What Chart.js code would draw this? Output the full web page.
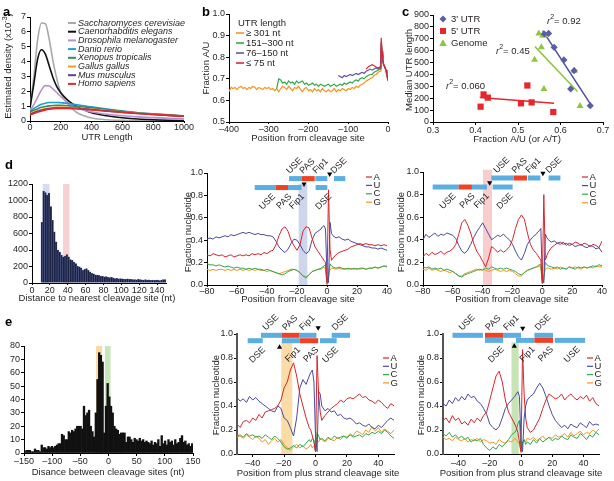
<!DOCTYPE html>
<html><head><meta charset="utf-8">
<script src="https://cdn.jsdelivr.net/npm/chart.js@4.4.1/dist/chart.umd.min.js"></script>
<style>
html,body{margin:0;padding:0;background:#fff;}
body{width:614px;height:481px;position:relative;overflow:hidden;}
canvas{position:absolute;left:0;top:0;}
</style></head><body>
<script>
// ================= DATA =================
// --- panel a: UTR length densities (x10^-3)
const A_LEN = [0,25,50,75,100,125,150,175,200,250,300,350,400,500,600,700,800,900,1000];
const A_SPECIES = ['Saccharomyces cerevisiae','Caenorhabditis elegans','Drosophila melanogaster','Danio rerio','Xenopus tropicalis','Gallus gallus','Mus musculus','Homo sapiens'];
const A_SCER = [0.8,3.0,5.5,6.6,6.55,5.5,4.0,2.8,1.9,1.1,0.6,0.35,0.2,0.08,0.04,0.02,0.01,0.01,0.0];
const A_CELE = [0.9,2.5,4.2,4.8,4.5,3.7,2.9,2.3,1.9,1.35,1.0,0.75,0.55,0.35,0.22,0.13,0.08,0.05,0.03];
const A_DMEL = [0.7,1.1,1.6,2.1,2.38,2.35,2.15,1.9,1.65,1.2,0.9,0.72,0.6,0.45,0.35,0.28,0.23,0.18,0.15];
const A_DRER = [0.65,0.85,1.0,1.12,1.2,1.24,1.25,1.25,1.23,1.18,1.1,1.02,0.95,0.8,0.67,0.56,0.47,0.4,0.33];
const A_XTRO = [0.6,0.72,0.83,0.92,0.98,1.02,1.04,1.05,1.05,1.03,0.99,0.94,0.89,0.77,0.66,0.56,0.48,0.41,0.35];
const A_GGAL = [0.5,0.6,0.7,0.78,0.84,0.88,0.9,0.92,0.92,0.91,0.88,0.84,0.8,0.7,0.6,0.52,0.45,0.38,0.33];
const A_MMUS = [0.45,0.55,0.65,0.73,0.79,0.83,0.86,0.88,0.88,0.87,0.85,0.81,0.77,0.68,0.59,0.51,0.44,0.38,0.32];
const A_HSAP = [0.4,0.5,0.6,0.68,0.75,0.8,0.83,0.85,0.85,0.84,0.82,0.79,0.75,0.66,0.58,0.5,0.44,0.38,0.33];
const A_XTICKS = [0,200,400,600,800,1000];
const A_YTICKS = [0,1,2,3,4,5,6,7];

// --- panel b: fraction A/U by position
const B_LABELS = ['\u2265 301 nt','151\u2013300 nt','76\u2013150 nt','\u2264 75 nt'];
const B_TAIL_POS = [-18,-17,-15,-13,-11,-9,-7,-5,-3,0];
const B_LONG = [.64,.66,.655,.66,.65,.66,.665,.655,.66,.65,
  .66,.655,.665,.66,.65,.66,.655,.65,.66,.655,
  .66,.65,.655,.645,.655,.64,.655,.665,.66,.65,
  .665,.655,.645,.66,.655,.665,.65,.64,.655,.66,
  .645,.65,.64,.655,.645,.65,.64,.655,.645,.64,
  .65,.64,.645,.655,.64,.65,.645,.655,.65,.645,
  .655,.65,.66,.655,.665,.66,.67,.675,.68,.69,
  .695,.70,.705,.715,.72,.73,.735,
  .77,.87,.81,.78,.76,.755,.745,.73,.71,.69];
const B_MID = [.655,.70,.695,.68,.685,.675,.69,.68,.685,.675,.69,
  .68,.685,.69,.675,.68,.67,.675,.68,.67,.675,
  .665,.675,.67,.665,.67,.675,.665,.67,.675,.665,
  .67,.675,.67,.68,.675,.68,.685,.68,.69,.695,
  .69,.70,.705,.70,.71,.715,.72,.72,.73,.735,
  .74,.745,
  .76,.86,.81,.78,.765,.76,.75,.74,.72,.70];
const B_SHORT = [.715,.71,.705,.715,.71,.715,.72,.715,.72,.725,.72,.725,.73,.725,.735,.74,.745,.74,.745,.75,.745,.75,
  .77,.87,.82,.78,.765,.76,.75,.74,.72,.70];
const B_VSHORT = [.745,.755,.76,.765,.76,.755,.75,.755,
  .78,.89,.83,.79,.77,.76,.75,.74,.72,.69];
const B_START = [-400,-280,-125,-55];
const B_XTICKS = [-400,-300,-200,-100,0];
const B_YTICKS = [0.5,0.6,0.7,0.8,0.9,1.0];

// --- panel c: median UTR length vs A/U fraction
const C_LABELS = ["3' UTR","5' UTR",'Genome'];
const C_UTR3_X = [0.562,0.572,0.585,0.608,0.632,0.624,0.670];
const C_UTR3_Y = [740,745,628,522,432,278,137];
const C_UTR5_X = [0.412,0.419,0.429,0.507,0.522,0.532,0.583];
const C_UTR5_Y = [129,232,205,157,307,165,84];
const C_GEN_X = [0.549,0.558,0.562,0.555,0.539,0.561,0.633,0.646];
const C_GEN_Y = [745,728,730,628,523,277,432,134];
const C_FIT3_X = [0.558,0.674], C_FIT3_Y = [769,131];
const C_FIT5_X = [0.41,0.585],  C_FIT5_Y = [207,157];
const C_FITG_X = [0.540,0.640], C_FITG_Y = [634,257];
const C_R2 = ['0.92','0.060','0.45'];
const C_XTICKS = [0.3,0.4,0.5,0.6,0.7];
const C_YTICKS = [0,100,200,300,400,500,600,700,800,900];

// --- panel d histogram: distance to nearest cleavage site (2-nt bins from 10)
const DH_BIN0 = 10, DH_BINW = 2;
const DH_COUNTS = [735,1115,1095,1065,1090,925,760,620,500,400,
  375,340,318,325,345,318,285,275,255,235,
  205,195,185,155,165,175,155,135,118,112,
  100,95,92,82,85,75,78,70,66,68,
  62,55,58,52,55,50,48,45,50,44,
  46,40,42,38,44,40,38,36,40,35,
  38,33,36,32,35,34,30,36,42,40];
const DH_XTICKS = [0,20,40,60,80,100,120,140];
const DH_YTICKS = [0,200,400,600,800,1000,1200];
const DH_BANDS = [[12,19.5],[34.7,42]];

// --- panel d nucleotide profiles (positions from cleavage site)
const NUC = ['A','U','C','G'];
const D_POS_A = [-80,-4,2], D_POS_MID = [-3,-2,-1,0,1,2,3], D_POS_C = [4,40,2];
const D1_A = [.27,.26,.28,.27,.26,.27,.25,.26,.27,.25,.26,.27,.26,.27,.26,.28,.27,.28,.27,.29,.28,.30,.31,.36,.44,.50,.52,.48,.40,.35,.31,.36,.48,.52,.51,.42,.34,.30,.26,
  .24,.22,.20,.02,.85,.32,.22,
  .24,.27,.29,.30,.31,.32,.34,.35,.36,.37,.36,.37,.36,.36,.35,.36,.35,.36,.35];
const D1_U = [.41,.42,.41,.43,.42,.43,.44,.43,.45,.44,.45,.46,.47,.46,.47,.46,.45,.46,.45,.45,.44,.44,.43,.39,.34,.31,.29,.32,.37,.41,.40,.36,.31,.28,.30,.40,.46,.48,.50,
  .52,.53,.50,.08,.02,.56,.46,
  .44,.42,.43,.41,.40,.41,.39,.38,.37,.36,.35,.34,.34,.33,.33,.32,.33,.32,.31];
const D1_C = [.19,.18,.18,.17,.18,.17,.16,.17,.16,.15,.16,.15,.15,.14,.15,.14,.15,.14,.14,.13,.14,.13,.12,.11,.10,.09,.10,.12,.13,.14,.13,.11,.08,.07,.09,.12,.13,.14,.15,
  .16,.17,.18,.01,.06,.19,.17,
  .16,.15,.16,.15,.14,.15,.14,.15,.14,.15,.15,.14,.15,.15,.16,.15,.16,.17,.16];
const D1_G = [.14,.13,.14,.13,.14,.14,.13,.14,.13,.14,.13,.14,.13,.14,.13,.14,.13,.14,.13,.13,.12,.13,.12,.11,.10,.11,.12,.13,.14,.14,.13,.11,.08,.06,.09,.12,.13,.14,.14,
  .15,.16,.14,.00,.10,.13,.15,
  .15,.14,.15,.14,.15,.14,.15,.14,.15,.14,.15,.14,.15,.15,.16,.15,.16,.17,.17];
const D2_A = [.25,.28,.26,.29,.27,.28,.30,.27,.29,.30,.32,.36,.45,.55,.58,.53,.46,.37,.30,.26,.21,.16,.24,.34,.32,.29,.31,.29,.31,.34,.40,.50,.58,.62,.58,.46,.36,.31,.28,
  .26,.24,.22,.02,.80,.22,.26,
  .29,.33,.35,.37,.36,.38,.35,.37,.36,.38,.37,.35,.37,.36,.34,.36,.35,.33,.39];
const D2_U = [.40,.45,.42,.44,.46,.43,.45,.44,.46,.45,.44,.41,.35,.30,.28,.31,.36,.42,.47,.51,.55,.50,.45,.40,.42,.44,.43,.45,.42,.40,.36,.30,.25,.22,.28,.36,.40,.43,.45,
  .47,.48,.50,.05,.02,.45,.42,
  .40,.38,.39,.37,.38,.36,.37,.35,.36,.34,.35,.36,.34,.33,.35,.34,.32,.33,.29];
const D2_C = [.16,.15,.16,.14,.15,.14,.15,.13,.14,.13,.12,.10,.08,.07,.09,.10,.11,.12,.13,.14,.13,.15,.14,.16,.15,.14,.15,.14,.15,.14,.13,.12,.10,.09,.11,.13,.14,.15,.16,
  .17,.18,.18,.01,.05,.20,.18,
  .17,.16,.15,.16,.14,.15,.14,.16,.15,.14,.16,.15,.16,.15,.16,.17,.16,.18,.17];
const D2_G = [.14,.13,.15,.13,.14,.13,.12,.13,.12,.11,.12,.10,.08,.08,.10,.11,.12,.13,.14,.13,.14,.13,.12,.13,.14,.13,.12,.13,.12,.13,.12,.10,.08,.08,.11,.13,.14,.15,.16,
  .16,.17,.15,.02,.08,.14,.15,
  .15,.14,.15,.14,.16,.15,.14,.16,.15,.16,.15,.14,.16,.15,.16,.15,.17,.16,.16];
const D_XTICKS = [-80,-60,-40,-20,0,20,40];
const NUC_YTICKS = [0,0.2,0.4,0.6,0.8,1.0];
// element annotations: [start, end, element]
const D1_ROW1 = [[-25.3,-17,'USE'],[-17,-8.2,'PAS'],[-7.8,0.2,'Fip1'],[4.7,12.2,'DSE']];
const D1_ROW2 = [[-48.2,-34.2,'USE'],[-34.2,-26,'PAS'],[-26,-17,'Fip1'],[-7.6,0.2,'DSE']];
const D1_SITES = [[1.8,0.964,'down'],[-15.3,0.875,'down']];
const D1_BAND = [-18.9,-13.1,0.905];
const D2_ROW1 = [[-34.2,-19.2,'USE'],[-19.2,-10.3,'PAS'],[-9.6,-1.3,'Fip1'],[4.2,12.1,'DSE']];
const D2_ROW2 = [[-73.5,-56.1,'USE'],[-56.1,-47.2,'PAS'],[-47.2,-37.1,'Fip1'],[-33.3,-19.9,'DSE']];
const D2_SITES = [[0.4,0.962,'down'],[-35.3,0.879,'down']];
const D2_BAND = [-39.8,-33.7,1.02];

// --- panel e histogram: distance between cleavage sites (3-nt bins from -150)
const EH_BIN0 = -150, EH_BINW = 3;
const EH_COUNTS = [1,2,2,2,1,1,3,2,2,1, 6,4,4,3,5,4,5,4,5,6,
  7,7,14,13,10,10,16,15,17,16, 18,20,20,20,18,35,28,30,32,20,
  16,12,30,55,75,73,68,15,35,52, 42,35,30,20,18,17,14,15,15,15,
  8,12,12,10,8,11,10,9,11,9, 10,8,9,8,7,9,6,8,7,10,
  5,13,7,9,6,10,8,9,6,10, 7,8,11,13,8,9,6,7,5,7];
const EH_XTICKS = [-150,-100,-50,0,50,100,150];
const EH_YTICKS = [0,10,20,30,40,50,60,70,80];
const EH_BANDS = [[-22,-11.3],[-6.5,3.6]];

// --- panel e nucleotide profiles (positions from plus strand cleavage site)
const E_POS_A = [-50,-4,2], E_POS_MID = [-3,-2,-1,0,1,2,3], E_POS_C = [4,50,2];
const E1_A = [.25,.22,.27,.28,.26,.30,.28,.33,.30,.35,.36,.37,.38,.40,.45,.55,.60,.70,.76,.65,.50,.40,.30,.22,
  .20,.15,.10,.02,.82,.50,.35,
  .28,.32,.35,.38,.40,.42,.45,.43,.46,.47,.46,.48,.50,.47,.48,.45,.44,.42,.45,.43,.40,.38,.42,.40];
const E1_U = [.47,.44,.46,.43,.48,.45,.47,.44,.42,.40,.38,.36,.35,.40,.38,.30,.28,.22,.15,.30,.55,.62,.58,.65,
  .68,.70,.60,.15,.02,.52,.50,
  .40,.36,.38,.35,.36,.32,.33,.30,.29,.30,.28,.25,.26,.24,.23,.25,.22,.21,.24,.22,.25,.28,.30,.28];
const E1_C = [.15,.16,.14,.17,.15,.16,.14,.15,.13,.16,.14,.12,.15,.13,.10,.06,.04,.05,.07,.05,.08,.06,.09,.12,
  .10,.13,.12,.02,.18,.15,.12,
  .13,.11,.14,.12,.15,.13,.14,.15,.13,.16,.14,.15,.16,.14,.17,.16,.18,.17,.19,.17,.20,.18,.15,.13];
const E1_G = [.14,.15,.13,.16,.14,.12,.15,.13,.10,.12,.08,.11,.13,.10,.12,.08,.05,.03,.06,.08,.05,.07,.04,.06,
  .08,.05,.07,.02,.12,.10,.13,
  .12,.10,.13,.12,.11,.14,.12,.15,.14,.17,.15,.19,.18,.16,.20,.18,.23,.19,.22,.18,.21,.19,.17,.20];
const E2_A = [.28,.30,.26,.32,.28,.30,.25,.27,.24,.29,.26,.30,.27,.32,.35,.45,.55,.65,.69,.60,.45,.35,.30,.25,
  .22,.18,.10,.02,.87,.50,.30,
  .22,.18,.20,.25,.30,.38,.45,.50,.48,.46,.47,.50,.45,.48,.50,.47,.45,.48,.46,.49,.44,.47,.42,.40];
const E2_U = [.42,.40,.45,.42,.47,.44,.48,.45,.50,.47,.48,.44,.42,.38,.33,.25,.22,.20,.23,.30,.38,.42,.45,.48,
  .50,.52,.48,.10,.02,.30,.40,
  .45,.48,.50,.55,.59,.55,.48,.40,.33,.28,.25,.22,.24,.21,.25,.23,.22,.26,.24,.22,.27,.24,.25,.24];
const E2_C = [.17,.15,.18,.14,.16,.13,.15,.12,.14,.10,.12,.11,.13,.08,.05,.03,.06,.04,.08,.06,.09,.12,.16,.18,
  .20,.25,.28,.02,.10,.12,.08,
  .10,.08,.12,.09,.13,.10,.12,.14,.11,.13,.12,.15,.13,.12,.16,.14,.13,.17,.15,.12,.16,.14,.18,.16];
const E2_G = [.14,.12,.13,.11,.14,.12,.11,.13,.10,.12,.11,.13,.10,.12,.11,.09,.10,.08,.12,.10,.09,.11,.10,.13,
  .12,.10,.08,.01,.08,.12,.10,
  .13,.12,.14,.11,.13,.15,.12,.14,.13,.16,.14,.15,.17,.14,.18,.15,.17,.19,.16,.18,.17,.20,.18,.21];
const E_XTICKS = [-40,-20,0,20,40];
const E1_ROW1 = [[-34.7,-21.4,'USE'],[-21.4,-10.1,'PAS'],[-10.1,0.6,'Fip1'],[10.3,22,'DSE']];
const E1_ROW2 = [[-43.2,-33.6,'DSE'],[-21.4,-10.1,'Fip1'],[-10.1,1.7,'PAS'],[2.8,13.5,'USE']];
const E1_SITES = [[1.7,1.028,'down'],[-22.9,0.914,'up']];
const E1_BAND = [-21.8,-14.8,0.945];
const E2_ROW1 = [[-43.9,-24.4,'USE'],[-23.1,-11.5,'PAS'],[-11.5,0,'Fip1'],[8.6,20.5,'DSE']];
const E2_ROW2 = [[-23.1,-11.5,'DSE'],[-3.2,8.6,'Fip1'],[8.6,20.5,'PAS'],[21.6,41.1,'USE']];
const E2_SITES = [[1.1,1.022,'down'],[-4.3,0.922,'up']];
const E2_BAND = [-6.1,-1.5,0.93];

// ================= STYLE / HELPERS =================
const W = 614, H = 481;
const FF = '"Liberation Sans", Arial, Helvetica, sans-serif';
const INK = '#231f20';
const A_COLORS = ['#a7a9ac','#111111','#b88fcf','#1aa0d8','#3a8a5e','#f6a01a','#5b3f99','#e8262b'];
const B_COLORS = ['#f7941d','#2fa84f','#5b57a6','#d7263d'];
const C_COLORS = ['#5b5ea6','#e8262b','#8dc63f'];
const NUC_COLORS = ['#d7262b','#4b4aa0','#2fa84f','#f7941d'];
const ELEM_BLUE = '#5aaee0', ELEM_RED = '#ef4123';

Chart.defaults.font.family = FF;
Chart.defaults.font.size = 9;
Chart.defaults.color = INK;

function seq(a, b, s) { const r = []; for (let v = a; v <= b + 1e-9; v += s) r.push(Math.round(v * 1000) / 1000); return r; }
function pairs(xs, ys) { return ys.map((y, i) => ({ x: xs[i], y: y })); }
function pos3(A, M, C) { return seq(A[0], A[1], A[2]).concat(M, seq(C[0], C[1], C[2])); }
const fInt = v => (v < 0 ? '\u2013' : '') + Math.abs(Math.round(v));
const f1 = v => (v < -1e-9 ? '\u2013' : '') + Math.abs(v).toFixed(1);

function setFont(ctx, size, style, weight) { ctx.font = [style || '', weight || '', size + 'px', FF].join(' ').trim(); }
function rich(ctx, parts, x, y, o) {
  o = o || {};
  ctx.save(); ctx.translate(x, y); if (o.rot) ctx.rotate(o.rot);
  ctx.fillStyle = o.color || INK; ctx.textBaseline = o.base || 'middle'; ctx.textAlign = 'left';
  let tot = 0;
  parts.forEach(p => { setFont(ctx, p.size || 9, p.style, p.weight); p._w = ctx.measureText(p.t).width; tot += p._w; });
  let cx = o.align === 'center' ? -tot / 2 : (o.align === 'right' ? -tot : 0);
  parts.forEach(p => { setFont(ctx, p.size || 9, p.style, p.weight); ctx.fillText(p.t, cx, p.dy || 0); cx += p._w; });
  ctx.restore();
}
function txt(ctx, s, x, y, o) { o = o || {}; rich(ctx, [{ t: s, size: o.size || 9, style: o.style, weight: o.weight }], x, y, o); }

// pos, range, tick values, formatter, box size, [tick length, label padding, line width, line colour]
function axis(pos, min, max, ticks, fmt, size, tl, pad, lw, col) {
  tl = tl == null ? 3 : tl; pad = pad == null ? 1 : pad; lw = lw || 1; col = col || '#000';
  return {
    type: 'linear', position: pos, min: min, max: max, offset: false,
    afterBuildTicks: s => { s.ticks = ticks.map(v => ({ value: v })); },
    afterFit: s => { if (pos === 'left') s.width = size; else s.height = size; },
    grid: { display: true, drawOnChartArea: false, drawTicks: true, tickLength: tl, tickWidth: 1, tickColor: '#000', offset: false },
    border: { display: true, color: col, width: lw },
    ticks: { autoSkip: false, maxRotation: 0, minRotation: 0, padding: pad, color: INK, font: { size: 9, family: FF }, callback: v => fmt(v) }
  };
}

let plugN = 0;
function mk(rect, yW, xH, cfg, hooks) {
  const cv = document.createElement('canvas');
  cv.width = W; cv.height = H; cv.style.width = W + 'px'; cv.style.height = H + 'px';
  document.body.appendChild(cv);
  cfg.options = cfg.options || {};
  Object.assign(cfg.options, {
    responsive: false, maintainAspectRatio: false, devicePixelRatio: 1, animation: false, events: [],
    layout: { padding: { left: rect.l - yW, top: rect.t, right: W - rect.r, bottom: H - rect.b - xH } },
    plugins: { legend: { display: false }, tooltip: { enabled: false } }
  });
  plugN++;
  cfg.plugins = [Object.assign({ id: 'ov' + plugN }, hooks)];
  return new Chart(cv, cfg);
}
function vTitle(c, s, x, y) { txt(c, s, x, y, { size: 9.5, align: 'center', rot: -Math.PI / 2 }); }
function hTitle(c, s, x, y) { txt(c, s, x, y, { size: 9.5, align: 'center' }); }
function letter(c, s, x, y) { txt(c, s, x, y, { size: 13, weight: 'bold', color: '#000' }); }

// ================= PANEL a =================
const aSeries = [A_SCER, A_CELE, A_DMEL, A_DRER, A_XTRO, A_GGAL, A_MMUS, A_HSAP];
mk({ l: 30, t: 17, r: 184, b: 121 }, 28, 16, {
  type: 'line',
  data: { datasets: aSeries.map((s, i) => ({ label: A_SPECIES[i], data: pairs(A_LEN, s), borderColor: A_COLORS[i], borderWidth: 1.6, pointRadius: 0, cubicInterpolationMode: 'monotone', order: aSeries.length - 1 - i })) },
  options: { scales: { x: axis('bottom', 0, 1000, A_XTICKS, fInt, 16, 2, -1), y: axis('left', 0, 7, A_YTICKS, fInt, 28) } }
}, {
  afterDraw(ch) {
    const c = ch.ctx;
    letter(c, 'a', 3, 12);
    rich(c, [{ t: 'Estimated density (x10', size: 9.5 }, { t: '-3', size: 7, dy: -3 }, { t: ')', size: 9.5 }], 8, 66, { rot: -Math.PI / 2, align: 'center' });
    hTitle(c, 'UTR Length', 107, 137.5);
    ch.data.datasets.forEach((d, i) => {
      const y = 23 + i * 8.7;
      c.strokeStyle = d.borderColor; c.lineWidth = 2; c.beginPath(); c.moveTo(68, y); c.lineTo(76, y); c.stroke();
      txt(c, d.label, 78, y, { size: 9, style: 'italic' });
    });
  }
});

// ================= PANEL b =================
const bPos = seq(-400, -20, 5).concat(B_TAIL_POS);
const bSeries = [B_LONG, B_MID, B_SHORT, B_VSHORT];
mk({ l: 229, t: 14, r: 388, b: 122 }, 30, 16, {
  type: 'line',
  data: { datasets: bSeries.map((s, i) => ({ label: B_LABELS[i], data: pairs(bPos.slice(bPos.indexOf(B_START[i])), s), borderColor: B_COLORS[i], borderWidth: 1.2, pointRadius: 0, tension: 0, order: bSeries.length - 1 - i })) },
  options: { scales: { x: axis('bottom', -400, 0, B_XTICKS, fInt, 16, 2, 0), y: axis('left', 0.5, 1.0, B_YTICKS, f1, 30) } }
}, {
  afterDraw(ch) {
    const c = ch.ctx;
    letter(c, 'b', 202, 12);
    vTitle(c, 'Fraction A/U', 206, 68);
    hTitle(c, 'Position from cleavage site', 308, 138);
    txt(c, 'UTR length', 238, 23, { size: 9.5 });
    ch.data.datasets.forEach((d, i) => {
      const y = 33 + i * 10;
      c.strokeStyle = d.borderColor; c.lineWidth = 1.6; c.beginPath(); c.moveTo(236, y); c.lineTo(244, y); c.stroke();
      txt(c, d.label, 246, y, { size: 9.5 });
    });
  }
});

// ================= PANEL c =================
function marker(c, kind, x, y, col) {
  c.fillStyle = col; c.beginPath();
  if (kind === 0) { c.moveTo(x, y - 3.5); c.lineTo(x + 3.5, y); c.lineTo(x, y + 3.5); c.lineTo(x - 3.5, y); }
  else if (kind === 1) { c.rect(x - 3, y - 3, 6, 6); }
  else { c.moveTo(x, y - 3.8); c.lineTo(x + 3.8, y + 3); c.lineTo(x - 3.8, y + 3); }
  c.closePath(); c.fill();
}
mk({ l: 433, t: 15, r: 603, b: 122 }, 30, 16, {
  type: 'scatter',
  data: { datasets: [
    { label: C_LABELS[0], data: pairs(C_UTR3_X, C_UTR3_Y), pointStyle: 'rectRot', pointRadius: 3.6, backgroundColor: C_COLORS[0], borderColor: C_COLORS[0], borderWidth: 0, order: 0 },
    { label: C_LABELS[1], data: pairs(C_UTR5_X, C_UTR5_Y), pointStyle: 'rect', pointRadius: 4.4, backgroundColor: C_COLORS[1], borderColor: C_COLORS[1], borderWidth: 0, order: 0 },
    { label: C_LABELS[2], data: pairs(C_GEN_X, C_GEN_Y), pointStyle: 'triangle', pointRadius: 4, backgroundColor: C_COLORS[2], borderColor: C_COLORS[2], borderWidth: 0, order: 0 },
    { label: 'fit3', data: pairs(C_FIT3_X, C_FIT3_Y), showLine: true, pointRadius: 0, borderColor: '#4b4fa0', borderWidth: 1.5, order: 1 },
    { label: 'fit5', data: pairs(C_FIT5_X, C_FIT5_Y), showLine: true, pointRadius: 0, borderColor: '#e8262b', borderWidth: 1.5, order: 1 },
    { label: 'fitG', data: pairs(C_FITG_X, C_FITG_Y), showLine: true, pointRadius: 0, borderColor: '#8dc63f', borderWidth: 1.5, order: 1 }
  ] },
  options: { scales: { x: axis('bottom', 0.3, 0.7, C_XTICKS, f1, 16, 3, 0), y: axis('left', 0, 900, C_YTICKS, fInt, 30) } }
}, {
  afterDraw(ch) {
    const c = ch.ctx;
    letter(c, 'c', 402, 12);
    vTitle(c, 'Median UTR length', 409, 70);
    hTitle(c, 'Fraction A/U (or A/T)', 517, 139);
    C_LABELS.forEach((s, i) => { const y = 19 + i * 12; marker(c, i, 443, y, C_COLORS[i]); txt(c, s, 451, y, { size: 9.5 }); });
    const r2 = (s, x, y) => rich(c, [{ t: 'r', size: 9.5, style: 'italic' }, { t: '2', size: 7, dy: -4 }, { t: '= ' + s, size: 9.5 }], x, y);
    r2(C_R2[0], 547, 21);
    r2(C_R2[1], 446, 86);
    r2(C_R2[2], 496, 51);
  }
});

// ================= HISTOGRAMS =================
function histChart(rect, yW, bin0, binw, counts, xr, yr, xt, yt, tl, col, edge, bands, bandCols, titleFn) {
  const xs = counts.map((v, i) => bin0 + binw * i + binw / 2);
  return mk(rect, yW, 16, {
    type: 'bar',
    data: { datasets: [{ data: pairs(xs, counts), backgroundColor: col, borderColor: edge, borderWidth: edge ? 0.5 : 0, barPercentage: 1, categoryPercentage: 1 }] },
    options: { scales: { x: axis('bottom', xr[0], xr[1], xt, fInt, 16, tl, 0), y: axis('left', yr[0], yr[1], yt, fInt, yW) } }
  }, {
    beforeDatasetsDraw(ch) {
      const c = ch.ctx, X = ch.scales.x, Y = ch.scales.y;
      bands.forEach((b, i) => {
        const x0 = X.getPixelForValue(b[0]), x1 = X.getPixelForValue(b[1]);
        const y0 = Y.getPixelForValue(yr[1]), y1 = Y.getPixelForValue(0);
        c.fillStyle = bandCols[i]; c.fillRect(x0, y0, x1 - x0, y1 - y0);
      });
    },
    afterDraw(ch) { titleFn(ch.ctx); }
  });
}
histChart({ l: 32, t: 184, r: 166, b: 283 }, 30, DH_BIN0, DH_BINW, DH_COUNTS, [0, 150], [0, 1200], DH_XTICKS, DH_YTICKS, 2,
  '#1b2244', '#4d5a8c', DH_BANDS, ['#d5dcef', '#f8d2d2'],
  c => { letter(c, 'd', 5, 165); hTitle(c, 'Distance to nearest cleavage site (nt)', 97, 298.5); });
histChart({ l: 24, t: 346, r: 193, b: 453 }, 22, EH_BIN0, EH_BINW, EH_COUNTS, [-150, 150], [0, 80], EH_XTICKS, EH_YTICKS, 3,
  '#111111', null, EH_BANDS, ['#fbd9a4', '#c8e6b9'],
  c => { letter(c, 'e', 5, 322); hTitle(c, 'Disance between cleavage sites (nt)', 108, 472); });

// ================= NUCLEOTIDE PROFILES =================
function nucChart(rect, xr, xt, pos, series, ann, leg, titles, xtl, xpad, yAxisLw, yAxisCol) {
  return mk(rect, 30, 16, {
    type: 'line',
    data: { datasets: series.map((s, i) => ({ label: NUC[i], data: pairs(pos, s), borderColor: NUC_COLORS[i], borderWidth: 1, pointRadius: 0, tension: 0 })) },
    options: { scales: { x: axis('bottom', xr[0], xr[1], xt, fInt, 16, xtl, xpad), y: axis('left', 0, 1, NUC_YTICKS, f1, 30, 3, 1, yAxisLw, yAxisCol) } }
  }, {
    beforeDatasetsDraw(ch) {
      const c = ch.ctx, X = ch.scales.x, Y = ch.scales.y, b = ann.band;
      const x0 = X.getPixelForValue(b[0]), x1 = X.getPixelForValue(b[1]);
      const y0 = Y.getPixelForValue(b[2]), y1 = Y.getPixelForValue(0);
      c.fillStyle = ann.bandColor; c.fillRect(x0, y0, x1 - x0, y1 - y0);
    },
    afterDraw(ch) {
      const c = ch.ctx, X = ch.scales.x, Y = ch.scales.y, BH = 5;
      ann.rows.forEach(row => {
        const yc = Y.getPixelForValue(row.y);
        row.items.forEach(it => {
          const x0 = X.getPixelForValue(it[0]), x1 = X.getPixelForValue(it[1]);
          c.fillStyle = it[2] === 'PAS' ? ELEM_RED : ELEM_BLUE;
          c.fillRect(x0, yc - BH / 2, x1 - x0, BH);
        });
      });
      ann.rows.forEach(row => {
        const yc = Y.getPixelForValue(row.y);
        row.items.forEach(it => {
          const x0 = X.getPixelForValue(it[0]), x1 = X.getPixelForValue(it[1]), cx = (x0 + x1) / 2;
          c.save(); setFont(c, 9); const L = c.measureText(it[2]).width; c.fillStyle = INK;
          if (row.above) {
            c.translate(cx - L * 0.354 + 1, yc - BH / 2 - 2); c.rotate(-Math.PI / 4); c.textAlign = 'left'; c.textBaseline = 'alphabetic';
          } else {
            c.translate(cx + L * 0.354 - 1, yc + BH / 2 + 2); c.rotate(-Math.PI / 4); c.textAlign = 'right'; c.textBaseline = 'top';
          }
          c.fillText(it[2], 0, 0); c.restore();
        });
      });
      c.fillStyle = '#000';
      ann.sites.forEach(s => {
        const px = X.getPixelForValue(s[0]), py = Y.getPixelForValue(s[1]);
        const d = s[2] === 'down' ? -4.5 : 4.5;
        c.beginPath(); c.moveTo(px, py); c.lineTo(px - 2.6, py + d); c.lineTo(px + 2.6, py + d); c.closePath(); c.fill();
      });
      ch.data.datasets.forEach((d, i) => {
        const y = leg.y + i * leg.dy;
        c.strokeStyle = d.borderColor; c.lineWidth = 1.2; c.beginPath(); c.moveTo(leg.x, y); c.lineTo(leg.x + 6, y); c.stroke();
        txt(c, d.label, leg.x + 7.5, y, { size: 9.5 });
      });
      titles(c);
    }
  });
}
const dPos = pos3(D_POS_A, D_POS_MID, D_POS_C);
const ePos = pos3(E_POS_A, E_POS_MID, E_POS_C);

nucChart({ l: 207, t: 173, r: 387, b: 285 }, [-80, 40], D_XTICKS, dPos, [D1_A, D1_U, D1_C, D1_G],
  { rows: [{ y: 0.95, above: true, items: D1_ROW1 }, { y: 0.87, above: false, items: D1_ROW2 }], sites: D1_SITES, band: D1_BAND, bandColor: '#cdd6ea' },
  { x: 366, y: 177, dy: 8.4 },
  c => { vTitle(c, 'Fraction nucleotide', 188, 232); hTitle(c, 'Position from cleavage site', 298, 299); }, 2, -1);

nucChart({ l: 423, t: 172, r: 602, b: 285 }, [-80, 40], D_XTICKS, dPos, [D2_A, D2_U, D2_C, D2_G],
  { rows: [{ y: 0.947, above: true, items: D2_ROW1 }, { y: 0.867, above: false, items: D2_ROW2 }], sites: D2_SITES, band: D2_BAND, bandColor: '#f7cdcd' },
  { x: 582, y: 177, dy: 8.6 },
  c => { vTitle(c, 'Fraction nucleotide', 401, 232); hTitle(c, 'Position from cleavage site', 512, 299); }, 2, -1);

nucChart({ l: 237, t: 334, r: 394, b: 454 }, [-50, 50], E_XTICKS, ePos, [E1_A, E1_U, E1_C, E1_G],
  { rows: [{ y: 0.989, above: true, items: E1_ROW1 }, { y: 0.944, above: false, items: E1_ROW2 }], sites: E1_SITES, band: E1_BAND, bandColor: '#fbdba6' },
  { x: 383, y: 358, dy: 8.3 },
  c => { vTitle(c, 'Fraction nucleotide', 216, 395); hTitle(c, 'Position from plus strand cleavage site', 318, 473); }, 3, 1, 2, '#555');

nucChart({ l: 443, t: 334, r: 599, b: 454 }, [-50, 50], E_XTICKS, ePos, [E2_A, E2_U, E2_C, E2_G],
  { rows: [{ y: 0.989, above: true, items: E2_ROW1 }, { y: 0.947, above: false, items: E2_ROW2 }], sites: E2_SITES, band: E2_BAND, bandColor: '#c6e4b6' },
  { x: 587, y: 358, dy: 8.3 },
  c => { vTitle(c, 'Fraction nucleotide', 421, 395); hTitle(c, 'Position from plus strand cleavage site', 521, 473); }, 3, 1, 2, '#555');
</script>
</body></html>
